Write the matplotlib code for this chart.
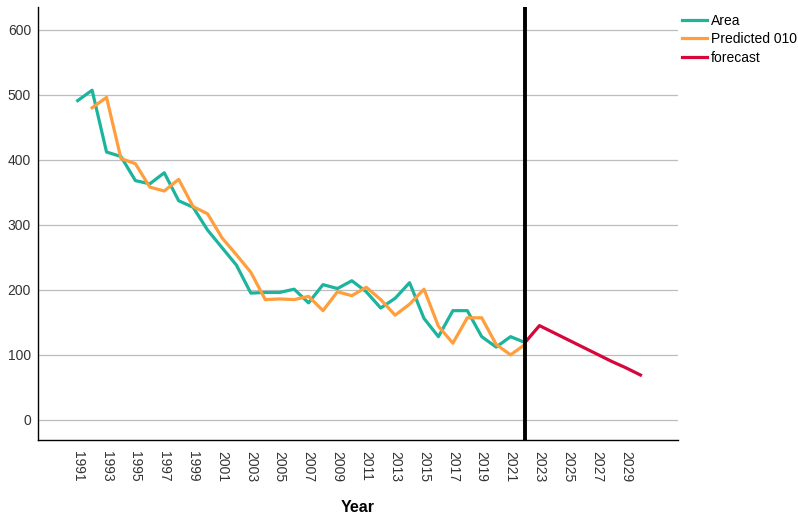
import matplotlib
matplotlib.use("Agg")
import matplotlib.pyplot as plt

plt.rcParams['font.family'] = ['Liberation Sans', 'DejaVu Sans']

# Данные
years = list(range(1991, 2023))
area = [491, 507, 412, 405, 368, 363, 380, 337, 327, 292, 265, 238, 195, 196,
        196, 201, 180, 208, 202, 214, 197, 172, 187, 211, 156, 128, 168, 168,
        128, 112, 128, 119]
pred_years = list(range(1992, 2023))
predicted = [480, 496, 402, 394, 358, 352, 370, 328, 317, 280, 254, 227, 185,
             186, 185, 190, 168, 197, 191, 204, 185, 161, 178, 201, 144, 118,
             157, 157, 116, 100, 116]
fc_years = list(range(2022, 2031))
forecast = [119, 145, 134, 123, 112, 101, 90, 80, 69]
tick_years = list(range(1991, 2030, 2))
y_ticks = [0, 100, 200, 300, 400, 500, 600]
cut_year = 2022

fig = plt.figure(figsize=(7.98, 5.22), dpi=100)
ax = fig.add_axes([0.0476, 0.157, 0.802, 0.8296])

ax.plot(years, area, color='#1CB49C', lw=2.3, label='Area', zorder=3)
ax.plot(pred_years, predicted, color='#FF9E3D', lw=2.3, label='Predicted 010', zorder=3)
ax.plot(fc_years, forecast, color='#D6083B', lw=2.3, label='forecast', zorder=3)
ax.axvline(cut_year, color='black', lw=2.8, zorder=4)

ax.set_xlim(1988.25, 2032.6)
ax.set_ylim(-31, 635)
ax.set_yticks(y_ticks)
ax.set_xticks(tick_years)
ax.set_xticklabels([str(y) for y in tick_years], rotation=270)
ax.tick_params(length=0, labelsize=10, colors='#333333')
ax.tick_params(axis='x', pad=8)
ax.tick_params(axis='y', pad=5)
ax.grid(axis='y', color='#BDBDBD', lw=0.9)
ax.set_axisbelow(True)
for s in ['top', 'right']:
    ax.spines[s].set_visible(False)
for s in ['left', 'bottom']:
    ax.spines[s].set_linewidth(1.0)
ax.set_xlabel('Year', fontsize=11.5, fontweight='bold', labelpad=13)

ax.legend(loc='upper left', bbox_to_anchor=(1.0, 0.993), frameon=False,
          fontsize=10, handlelength=1.8, handletextpad=0.25, labelspacing=0.3,
          borderaxespad=0.0, borderpad=0.3)

fig.savefig('out.png', dpi=100)
